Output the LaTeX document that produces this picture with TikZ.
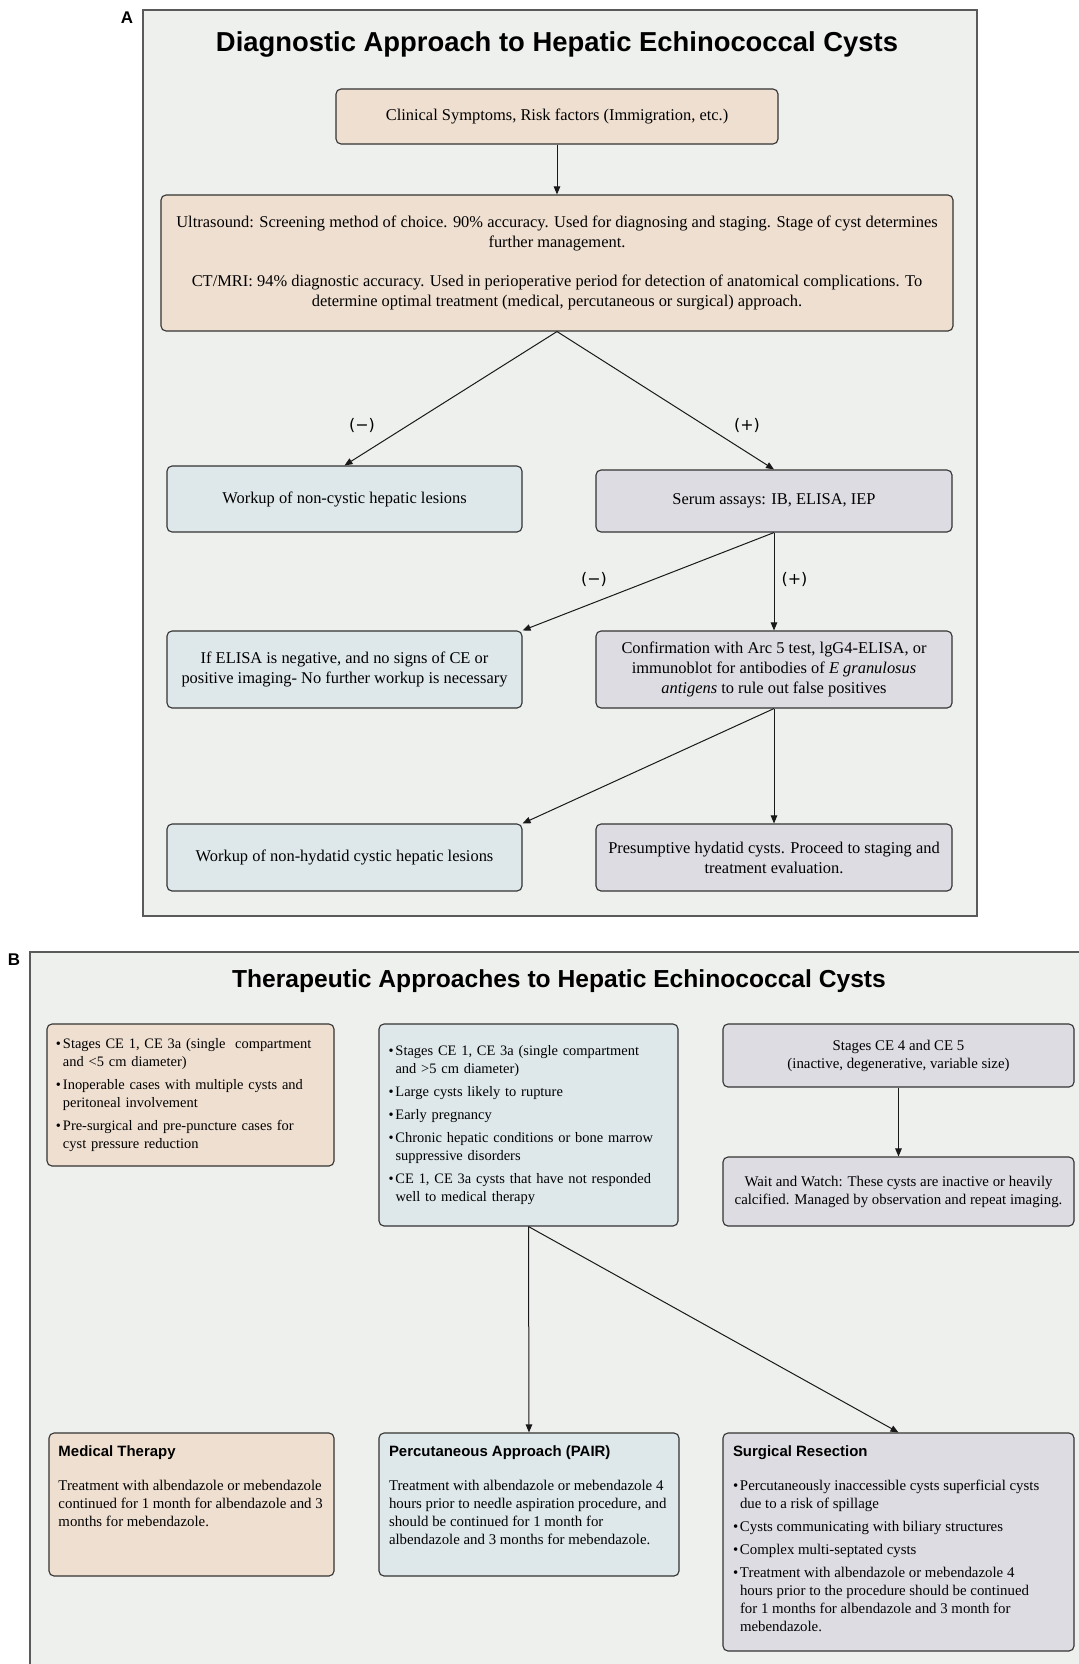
\documentclass[tikz,border=0pt]{standalone}
\usepackage{fontspec}
\setmainfont{Liberation Serif}
\newfontfamily\hvfont{Liberation Sans}
\newfontfamily\djfont{DejaVu Sans}
\usetikzlibrary{arrows.meta}
\definecolor{panelbg}{HTML}{EEF0ED}
\definecolor{panelline}{HTML}{5A5A5A}
\definecolor{peachc}{HTML}{EFDFD0}
\definecolor{bluec}{HTML}{DEE7EA}
\definecolor{greyc}{HTML}{DDDCE2}
\definecolor{boxline}{HTML}{333333}
\newcommand\bulmark{\makebox[7bp][l]{\textbullet}}
\newcommand\bulind{\hspace*{7bp}}
\tikzset{
  box/.style={draw=boxline, line width=1.1bp, rounded corners=5bp, inner sep=8bp, align=center,
    font=\fontsize{16.5}{20}\selectfont},
  peachbox/.style={box, fill=peachc},
  bluebox/.style={box, fill=bluec},
  greybox/.style={box, fill=greyc},
  bbox/.style={box, font=\fontsize{14.9}{18}\selectfont},
  blist/.style={box, font=\fontsize{14.5}{18}\selectfont},
  conn/.style={draw=black!90, line width=1bp, -{Triangle[length=8bp,width=6.5bp]}},
  sign/.style={font=\djfont\fontsize{16}{18}\selectfont, inner sep=0pt},
  panel/.style={fill=panelbg, draw=panelline, line width=1.5bp},
  plabel/.style={font=\hvfont\bfseries\fontsize{17}{20}\selectfont, inner sep=0pt},
}
\begin{document}
\begin{tikzpicture}[x=1bp,y=-1bp]
\useasboundingbox (0,0) rectangle (1078,1664);
\fill[white] (0,0) rectangle (1078,1664);

% ---------------- Panel A ----------------
\draw[panel] (143,10) rectangle (977,916);
\node[plabel] (la) at (127,18) {A};
\node[font=\hvfont\bfseries\fontsize{27.5}{30}\selectfont, anchor=base, inner sep=0pt] (ta) at (557,51.5)
  {Diagnostic Approach to Hepatic Echinococcal Cysts};

\node[peachbox, minimum width=442bp, minimum height=55bp] (a1) at (557,116.5)
  {Clinical Symptoms, Risk factors (Immigration, etc.)};
\node[peachbox, minimum width=792bp, minimum height=136bp] (a2) at (557,263)
  {Ultrasound: Screening method of choice. 90\% accuracy. Used for diagnosing and staging. Stage of cyst determines\\
   further management.\\[20bp]
   CT/MRI: 94\% diagnostic accuracy. Used in perioperative period for detection of anatomical complications. To\\
   determine optimal treatment (medical, percutaneous or surgical) approach.};
\node[bluebox, minimum width=355bp, minimum height=66bp] (a3) at (344.5,499)
  {Workup of non-cystic hepatic lesions};
\node[greybox, minimum width=356bp, minimum height=62bp] (a4) at (774,501)
  {Serum assays: IB, ELISA, IEP};
\node[bluebox, minimum width=355bp, minimum height=77bp] (a5) at (344.5,669.5)
  {If ELISA is negative, and no signs of CE or\\ positive imaging- No further workup is necessary};
\node[greybox, minimum width=356bp, minimum height=77bp] (a6) at (774,669.5)
  {Confirmation with Arc 5 test, lgG4-ELISA, or\\
   immunoblot for antibodies of \textit{E granulosus}\\
   \textit{antigens} to rule out false positives};
\node[bluebox, minimum width=355bp, minimum height=67bp] (a7) at (344.5,857.5)
  {Workup of non-hydatid cystic hepatic lesions};
\node[greybox, minimum width=356bp, minimum height=67bp] (a8) at (774,857.5)
  {Presumptive hydatid cysts. Proceed to staging and\\ treatment evaluation.};

\draw[conn] (a1.south) -- (a2.north);
\draw[conn] (a2.south) -- (a3.north);
\draw[conn] (a2.south) -- (a4.north);
\draw[conn] (a4.south) -- (a5.north east);
\draw[conn] (a4.south) -- (a6.north);
\draw[conn] (a6.south) -- (a7.north east);
\draw[conn] (a6.south) -- (a8.north);

\node[sign] (s1) at (362,425) {(−)};
\node[sign] (s2) at (747,425) {(+)};
\node[sign] (s3) at (594,579) {(−)};
\node[sign] (s4) at (794.5,579) {(+)};

% ---------------- Panel B ----------------
\draw[panel] (30,952) rectangle (1100,1700);
\node[plabel] (lb) at (14,960) {B};
\node[font=\hvfont\bfseries\fontsize{24.7}{28}\selectfont, anchor=base, inner sep=0pt] (tb) at (559,987)
  {Therapeutic Approaches to Hepatic Echinococcal Cysts};

\node[blist, fill=peachc, minimum width=287bp, minimum height=142bp, inner xsep=9bp, text width=269bp, align=left] (b1) at (190.5,1095)
  {\bulmark Stages CE 1, CE 3a (single\ \ compartment\\ \bulind and <5 cm diameter)\\[5bp]
   \bulmark Inoperable cases with multiple cysts and\\ \bulind peritoneal involvement\\[5bp]
   \bulmark Pre-surgical and pre-puncture cases for\\ \bulind cyst pressure reduction};
\node[blist, fill=bluec, minimum width=299bp, minimum height=202bp, inner xsep=9.5bp, text width=280bp, align=left] (b2) at (528.5,1125)
  {\bulmark Stages CE 1, CE 3a (single compartment\\ \bulind and >5 cm diameter)\\[5bp]
   \bulmark Large cysts likely to rupture\\[5bp]
   \bulmark Early pregnancy\\[5bp]
   \bulmark Chronic hepatic conditions or bone marrow\\ \bulind suppressive disorders\\[5bp]
   \bulmark CE 1, CE 3a cysts that have not responded\\ \bulind well to medical therapy};
\node[bbox, fill=greyc, minimum width=351bp, minimum height=63bp] (b3) at (898.5,1055.5)
  {Stages CE 4 and CE 5\\ (inactive, degenerative, variable size)};
\node[bbox, fill=greyc, minimum width=351bp, minimum height=69bp] (b4) at (898.5,1191.5)
  {Wait and Watch: These cysts are inactive or heavily\\ calcified. Managed by observation and repeat imaging.};

\node[bbox, fill=peachc, inner xsep=9.5bp, inner ysep=13bp] (b5) at (191.5,1504.5)
  {\parbox[c][117bp][t]{266bp}{\raggedright\fontsize{14.9}{18}\selectfont
   {\hvfont\bfseries\fontsize{15}{18}\selectfont Medical Therapy}\\[16bp]
   Treatment with albendazole or mebendazole\\
   continued for 1 month for albendazole and 3\\
   months for mebendazole.}};
\node[bbox, fill=bluec, inner xsep=10bp, inner ysep=13bp] (b6) at (529,1504.5)
  {\parbox[c][117bp][t]{280bp}{\raggedright\fontsize{14.9}{18}\selectfont
   {\hvfont\bfseries\fontsize{15}{18}\selectfont Percutaneous Approach (PAIR)}\\[16bp]
   Treatment with albendazole or mebendazole 4\\
   hours prior to needle aspiration procedure, and\\
   should be continued for 1 month for\\
   albendazole and 3 months for mebendazole.}};
\node[bbox, fill=greyc, inner xsep=10bp, inner ysep=13bp] (b7) at (898.5,1542)
  {\parbox[c][192bp][t]{331bp}{\raggedright\fontsize{14.9}{18}\selectfont
   {\hvfont\bfseries\fontsize{15}{18}\selectfont Surgical Resection}\\[16bp]
   \bulmark Percutaneously inaccessible cysts superficial cysts\\ \bulind due to a risk of spillage\\[5bp]
   \bulmark Cysts communicating with biliary structures\\[5bp]
   \bulmark Complex multi-septated cysts\\[5bp]
   \bulmark Treatment with albendazole or mebendazole 4\\ \bulind hours prior to the procedure should be continued\\
   \bulind for 1 months for albendazole and 3 month for\\ \bulind mebendazole.}};

\draw[conn] (b3.south) -- (b4.north);
\draw[conn] (b2.south) -- (b6.north);
\draw[conn] (b2.south) -- (b7.north);
\end{tikzpicture}
\end{document}
